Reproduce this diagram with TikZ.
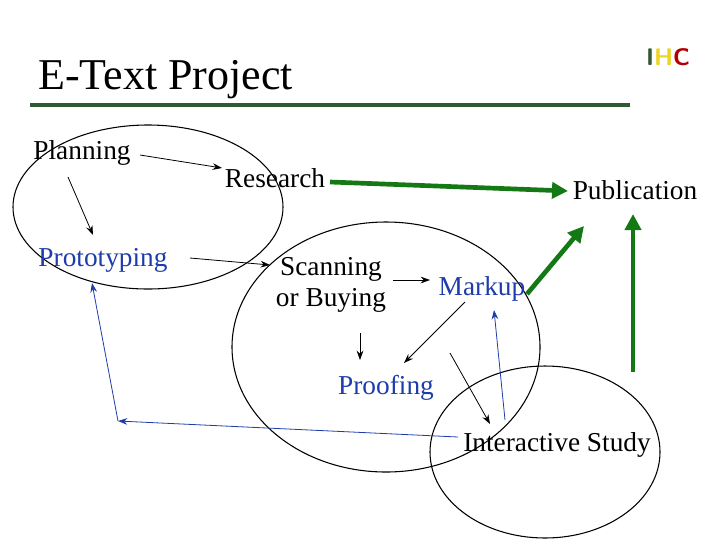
\documentclass[tikz,border=0pt]{standalone}
\usepackage{fontspec}
\setmainfont{Liberation Serif}
\usetikzlibrary{arrows.meta}
\definecolor{lblue}{RGB}{30,60,170}
\definecolor{dgreen}{RGB}{20,120,20}
\definecolor{tgreen}{RGB}{50,90,50}
\begin{document}
\begin{tikzpicture}[x=0.75pt,y=-0.75pt,
  lbl/.style={inner sep=0pt,font=\fontsize{20.5}{22}\selectfont},
  blk/.style={-{Stealth[length=7pt,width=5pt]},semithick,black},
  grn/.style={-{Triangle[length=12pt,width=12pt]},line width=3.5pt,dgreen},
  blu/.style={-{Stealth[length=7pt,width=5pt]},lblue,semithick},
  ell/.style={draw,thick}]
\useasboundingbox (0,0) rectangle (720,540);
\node[lbl,anchor=west,font=\fontsize{33}{36}\selectfont] (title) at (38,80) {E-Text Project};
\draw[tgreen,line width=2.5pt] (30,105) -- (630,105);
\node[inner sep=0pt,font=\sffamily\bfseries\fontsize{18}{18}\selectfont] (logo) at (668,57)
  {\textcolor{tgreen}{I}\textcolor{yellow!70!brown}{H}\textcolor{red!70!black}{C}};
\draw[ell] (148,207) ellipse (135 and 82);
\draw[ell] (386,347) ellipse (154 and 125);
\draw[ell] (545,452) ellipse (115 and 86);
\node[lbl] (plan) at (82,153) {Planning};
\node[lbl] (res) at (275,178) {Research};
\node[lbl] (pub) at (635,190) {Publication};
\node[lbl,lblue] (proto) at (103,260) {Prototyping};
\node[lbl,align=center,font=\fontsize{20.5}{23}\selectfont] (scan) at (331,285) {Scanning\\or Buying};
\node[lbl,lblue] (mark) at (482,289) {Markup};
\node[lbl,lblue] (proof) at (386,388) {Proofing};
\node[lbl] (inter) at (557,445) {Interactive Study};
\coordinate (c1) at (118,421);
\draw[blk] (140,155) -- (222,168);
\draw[blk] (68,177) -- (93,235);
\draw[blk] (190,258) -- (270,265);
\draw[blk] (393,280) -- (430,280);
\draw[blk] (360,333) -- (360,360);
\draw[blk] (465,302) -- (404,363);
\draw[blk] (450,353) -- (490,424);
\draw[grn] (330,182) -- (568,191);
\draw[grn] (527,294) -- (584,226);
\draw[grn] (633,372) -- (633,214);
\draw[blu] (505,420) -- (494,310);
\draw[blu] (458,437) -- (c1);
\draw[blu] (c1) -- (92,283);
\end{tikzpicture}
\end{document}
